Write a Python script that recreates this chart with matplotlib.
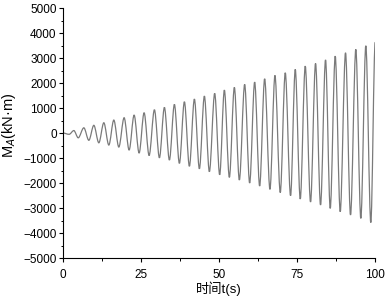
import numpy as np
import matplotlib
matplotlib.use("Agg")
import matplotlib.pyplot as plt
from matplotlib.path import Path
from matplotlib.patches import PathPatch
from matplotlib.ticker import MultipleLocator

plt.rcParams['font.family'] = ['Liberation Sans', 'Noto Sans CJK SC', 'DejaVu Sans']

# extrema of the response (time in s, moment in kN·m)
peak_t = [3.5, 6.7, 9.9, 13.1, 16.3, 19.6, 22.8, 26.0, 29.3, 32.5, 35.7, 38.9, 42.1,
          45.3, 48.6, 51.7, 54.9, 58.2, 61.4, 64.6, 67.9, 71.2, 74.4, 77.6, 80.9,
          84.1, 87.2, 90.5, 93.8, 97.0, 100.0]
peak_v = [100, 210, 310, 412, 520, 613, 720, 813, 933, 1027, 1147, 1253, 1360,
          1480, 1587, 1720, 1827, 1947, 2040, 2173, 2307, 2413, 2547, 2680, 2787,
          2930, 3080, 3213, 3347, 3493, 3640]
trough_t = [2.0, 4.9, 8.3, 11.5, 14.7, 17.9, 21.2, 24.4, 27.6, 30.9, 34.1, 37.3, 40.5,
            43.7, 46.9, 50.2, 53.3, 56.5, 59.8, 63.0, 66.3, 69.6, 72.9, 76.0, 79.3,
            82.5, 85.6, 88.8, 92.1, 95.4, 98.6]
trough_v = [-50, -190, -290, -390, -480, -560, -680, -800, -900, -990, -1080, -1213,
            -1330, -1430, -1547, -1670, -1773, -1880, -2000, -2120, -2253, -2380,
            -2507, -2640, -2760, -2880, -3013, -3147, -3280, -3413, -3580]

xticks = [0, 25, 50, 75, 100]
yticks = [-5000, -4000, -3000, -2000, -1000, 0, 1000, 2000, 3000, 4000, 5000]

nodes = sorted([(0.0, 0.0)] + list(zip(trough_t, trough_v)) + list(zip(peak_t, peak_v)))

# smooth curve through the extrema: cubic segments with flat tangents at each turning point
verts = [nodes[0]]
codes = [Path.MOVETO]
for (t0, v0), (t1, v1) in zip(nodes[:-1], nodes[1:]):
    dt = t1 - t0
    verts += [(t0 + dt / 3, v0), (t1 - dt / 3, v1), (t1, v1)]
    codes += [Path.CURVE4] * 3

fig = plt.figure(figsize=(3.86, 2.99), dpi=100)
ax = fig.add_axes([0.163, 0.137, 0.809, 0.836])
ax.add_patch(PathPatch(Path(verts, codes), fill=False, edgecolor='#7a7a7a', lw=0.9))

ax.set_xlim(0, 100)
ax.set_ylim(-5000, 5000)
ax.set_xticks(xticks)
ax.set_yticks(yticks)
ax.xaxis.set_minor_locator(MultipleLocator(12.5))
ax.yaxis.set_minor_locator(MultipleLocator(500))
ax.spines['top'].set_visible(False)
ax.spines['right'].set_visible(False)
for s in ('left', 'bottom'):
    ax.spines[s].set_linewidth(0.8)
ax.tick_params(which='major', direction='out', length=3, width=0.8, labelsize=8.5)
ax.tick_params(which='minor', direction='out', length=1.8, width=0.7)
ax.tick_params(axis='x', which='major', pad=5)
ax.tick_params(axis='y', which='major', pad=1.5)

ax.set_xlabel('时间t(s)', fontsize=9.5, labelpad=0)
ax.set_ylabel('M$_{A}$(kN·m)', fontsize=10.5)
ax.yaxis.set_label_coords(-0.145, 0.53)

fig.savefig('out.png', dpi=100)
